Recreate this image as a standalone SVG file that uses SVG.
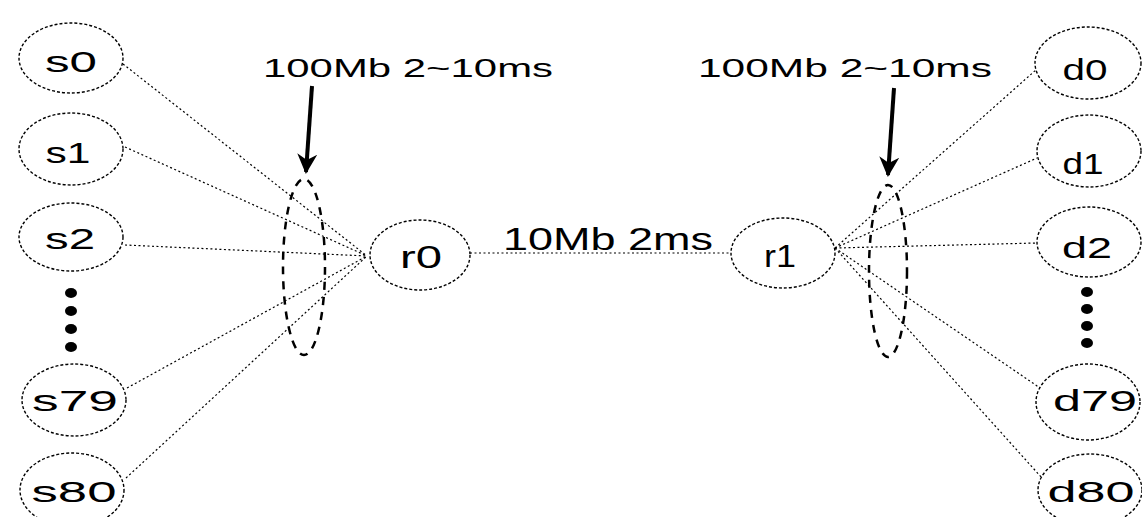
<svg xmlns="http://www.w3.org/2000/svg" width="1142" height="517" viewBox="0 0 1142 517">
<style>
.node{fill:#fff;stroke:#000;stroke-width:1.4;stroke-dasharray:3 2}
.lbl{font-family:"Liberation Sans",Arial,sans-serif;font-size:30px;fill:#000;text-anchor:middle}
.cap{font-family:"Liberation Sans",Arial,sans-serif;font-size:25px;fill:#000}
.link{stroke:#000;stroke-width:1.2;stroke-dasharray:2 2.5;fill:none}
.grp{fill:none;stroke:#000;stroke-width:2.5;stroke-dasharray:8 7}
.arr{stroke:#000;stroke-width:4;fill:none}
.dot{fill:#000}
</style>
<defs>
<marker id="ah" viewBox="0 0 10 10" refX="9" refY="5" markerWidth="5" markerHeight="6.5" orient="auto" markerUnits="strokeWidth">
<path d="M0,0 L10,5 L0,10 L3,5 Z" fill="#000"/>
</marker>
</defs>
<rect width="1142" height="517" fill="#fff"/>
<g id="connectors">
<line class="link" x1="123" y1="64" x2="367" y2="256"/>
<line class="link" x1="125" y1="147" x2="367" y2="256"/>
<line class="link" x1="125" y1="245" x2="367" y2="256"/>
<line class="link" x1="127" y1="388" x2="367" y2="256"/>
<line class="link" x1="126" y1="478" x2="367" y2="256"/>
<line class="link" x1="470" y1="253" x2="731" y2="253"/>
<line class="link" x1="835" y1="248" x2="1037" y2="69"/>
<line class="link" x1="835" y1="248" x2="1037" y2="158"/>
<line class="link" x1="835" y1="248" x2="1037" y2="243"/>
<line class="link" x1="835" y1="248" x2="1043" y2="390"/>
<line class="link" x1="835" y1="248" x2="1042" y2="478"/>
</g>
<g id="groups">
<ellipse class="grp" cx="304" cy="267" rx="21" ry="88"/>
<ellipse class="grp" cx="888" cy="271" rx="19" ry="86"/>
<line class="arr" x1="312" y1="86" x2="306" y2="172" marker-end="url(#ah)"/>
<line class="arr" x1="894" y1="88" x2="888" y2="175" marker-end="url(#ah)"/>
<text class="cap" x="263" y="77" textLength="290" lengthAdjust="spacingAndGlyphs">100Mb 2~10ms</text>
<text class="cap" x="698" y="77" textLength="294" lengthAdjust="spacingAndGlyphs">100Mb 2~10ms</text>
<text class="cap" x="503" y="250" style="font-size:31px" textLength="210" lengthAdjust="spacingAndGlyphs">10Mb 2ms</text>
</g>
<g id="s0"><ellipse class="node" cx="71" cy="58" rx="52" ry="35"/><text class="lbl" x="71" y="72" textLength="52" lengthAdjust="spacingAndGlyphs">s0</text></g>
<g id="s1"><ellipse class="node" cx="71" cy="149" rx="52" ry="36"/><text class="lbl" x="68" y="163" textLength="45" lengthAdjust="spacingAndGlyphs">s1</text></g>
<g id="s2"><ellipse class="node" cx="71" cy="237" rx="52" ry="34"/><text class="lbl" x="70" y="249" textLength="50" lengthAdjust="spacingAndGlyphs">s2</text></g>
<g id="s-dots"><ellipse class="dot" cx="71" cy="293" rx="6" ry="5"/><ellipse class="dot" cx="71" cy="311" rx="6" ry="5"/><ellipse class="dot" cx="71" cy="329" rx="6" ry="5"/><ellipse class="dot" cx="71" cy="347" rx="6" ry="5"/></g>
<g id="s79"><ellipse class="node" cx="74" cy="400" rx="52" ry="36"/><text class="lbl" x="75" y="411" textLength="86" lengthAdjust="spacingAndGlyphs">s79</text></g>
<g id="s80"><ellipse class="node" cx="72" cy="490" rx="52" ry="37"/><text class="lbl" x="74" y="502" textLength="85" lengthAdjust="spacingAndGlyphs">s80</text></g>
<g id="r0"><ellipse class="node" cx="420" cy="255" rx="50" ry="35"/><text class="lbl" x="421" y="268" style="font-size:32px" textLength="42" lengthAdjust="spacingAndGlyphs">r0</text></g>
<g id="r1"><ellipse class="node" cx="783" cy="253" rx="52" ry="35"/><text class="lbl" x="780" y="267" style="font-size:32px" textLength="32" lengthAdjust="spacingAndGlyphs">r1</text></g>
<g id="d0"><ellipse class="node" cx="1088" cy="63" rx="53" ry="36"/><text class="lbl" x="1085" y="80" textLength="45" lengthAdjust="spacingAndGlyphs">d0</text></g>
<g id="d1"><ellipse class="node" cx="1089" cy="151" rx="52" ry="36"/><text class="lbl" x="1083" y="174" textLength="41" lengthAdjust="spacingAndGlyphs">d1</text></g>
<g id="d2"><ellipse class="node" cx="1089" cy="242" rx="52" ry="35"/><text class="lbl" x="1087" y="258" textLength="50" lengthAdjust="spacingAndGlyphs">d2</text></g>
<g id="d-dots"><ellipse class="dot" cx="1087" cy="292" rx="6" ry="5"/><ellipse class="dot" cx="1087" cy="309" rx="6" ry="5"/><ellipse class="dot" cx="1087" cy="326" rx="6" ry="5"/><ellipse class="dot" cx="1087" cy="343" rx="6" ry="5"/></g>
<g id="d79"><ellipse class="node" cx="1088" cy="402" rx="52" ry="38"/><text class="lbl" x="1095" y="411" textLength="84" lengthAdjust="spacingAndGlyphs">d79</text></g>
<g id="d80"><ellipse class="node" cx="1090" cy="490" rx="52" ry="36"/><text class="lbl" x="1091" y="502" textLength="87" lengthAdjust="spacingAndGlyphs">d80</text></g>
</svg>
